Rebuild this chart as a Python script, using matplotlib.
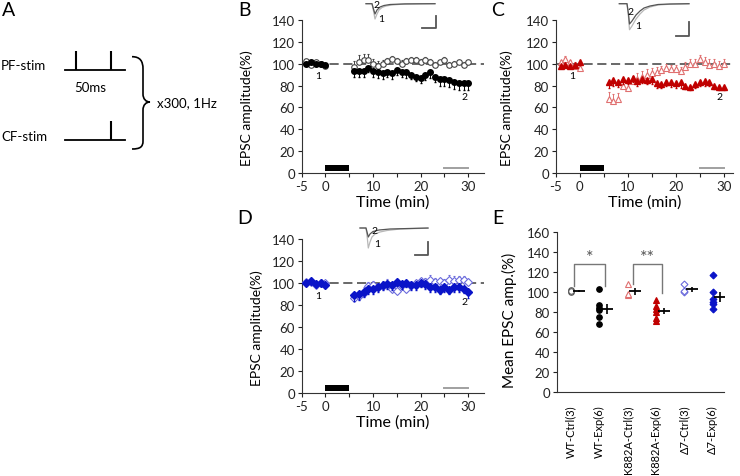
import numpy as np
import matplotlib
matplotlib.use("Agg")
import matplotlib.pyplot as plt
from matplotlib.path import Path
from matplotlib.patches import PathPatch

plt.rcParams['font.family'] = ['Lato', 'DejaVu Sans']

W, H = 740, 477

# ---- time course data (min, % of baseline) ----
t_base = [-4, -3, -2, -1, 0]
t_post = list(range(6, 31))
time = t_base + t_post

wt_exp = [100, 101, 100, 100, 99,
          93, 93, 93, 96, 93, 92, 91, 92, 91, 94, 92, 92, 90, 88, 87, 90, 92, 88, 86, 86, 85, 83, 82, 82, 82]
wt_exp_err = [1, 1, 1, 1, 1,
              5, 5, 5, 4, 5, 5, 5, 4, 5, 4, 4, 5, 4, 4, 5, 5, 5, 5, 6, 6, 6, 6, 6, 6, 6]
wt_ctrl = [102, 99, 101, 100, 98,
           97, 101, 103, 103, 100, 98, 100, 102, 104, 102, 100, 102, 103, 103, 101, 103, 101, 99, 101, 103, 99, 100, 101, 99, 101]
wt_ctrl_err = [2, 2, 1, 1, 2,
               5, 7, 6, 6, 4, 4, 3, 3, 3, 3, 3, 3, 3, 3, 3, 3, 3, 2, 2, 3, 2, 2, 2, 2, 2]

k882a_exp = [98, 99, 98, 99, 101,
             83, 85, 83, 86, 85, 87, 84, 86, 85, 86, 82, 81, 83, 83, 82, 83, 80, 79, 81, 83, 84, 83, 80, 79, 79]
k882a_exp_err = [2, 2, 2, 2, 2,
                 5, 5, 4, 5, 4, 4, 4, 4, 4, 5, 4, 3, 3, 4, 4, 5, 3, 3, 3, 3, 4, 3, 3, 3, 3]
k882a_ctrl = [101, 104, 101, 98, 96,
              68, 66, 68, 80, 78, 84, 86, 88, 90, 91, 92, 94, 96, 95, 95, 93, 97, 100, 100, 104, 101, 99, 100, 98, 100]
k882a_ctrl_err = [2, 3, 2, 3, 3,
                  6, 6, 5, 5, 5, 5, 5, 5, 5, 5, 5, 4, 4, 4, 4, 4, 4, 4, 4, 4, 5, 5, 4, 4, 4]

d7_exp = [100, 102, 99, 100, 98,
          89, 90, 92, 95, 95, 96, 98, 99, 98, 101, 99, 100, 98, 98, 100, 99, 96, 96, 94, 96, 94, 96, 96, 95, 92]
d7_exp_err = [1, 1, 1, 1, 1,
              5, 5, 5, 5, 5, 4, 4, 4, 4, 4, 4, 4, 4, 4, 4, 4, 4, 4, 4, 4, 4, 4, 4, 4, 6]
d7_ctrl = [101, 101, 98, 100, 100,
           86, 88, 91, 97, 98, 96, 97, 99, 95, 93, 97, 95, 98, 100, 102, 101, 103, 101, 102, 100, 103, 102, 103, 103, 101]
d7_ctrl_err = [1, 1, 1, 1, 1,
               5, 5, 5, 4, 4, 4, 5, 5, 5, 5, 4, 4, 3, 3, 3, 4, 4, 4, 3, 4, 4, 4, 3, 3, 3]

cf_bar = (0, 5)        # conditioning period (min)
analysis_win = (25, 30)

# ---- summary data (panel E) ----
groups = ['WT-Ctrl(3)', 'WT-Exp(6)', 'K882A-Ctrl(3)', 'K882A-Exp(6)', 'Δ7-Ctrl(3)', 'Δ7-Exp(6)']
group_vals = [
    [100, 102, 101],
    [103, 87, 84, 82, 75, 68],
    [108, 97, 98],
    [92, 86, 83, 80, 74, 71],
    [108, 100, 101],
    [117, 100, 93, 90, 88, 83],
]
group_sem = [0.7, 5, 3.5, 3, 2.5, 5]

# ---- EPSC sample traces (inset units) ----
trB1 = ([6, 12, 13.5, 15, 17, 19, 22, 26, 32, 42, 60, 75],
        [4.7, 4.7, 12, 20, 15, 11, 8.5, 7, 6, 5.2, 4.8, 4.7])
trB2 = ([6, 12, 13.5, 15, 17, 20, 24, 30, 45, 75],
        [4.7, 4.7, 10, 15, 11, 8, 6.5, 5.5, 4.9, 4.7])
trC1 = ([9.3, 17, 18.5, 19.5, 22, 26, 30, 34, 40, 48, 60, 79],
        [4.7, 4.7, 18, 30.7, 27, 20, 15, 11, 8, 6, 5.2, 4.8])
trC2 = ([9.3, 17, 18.5, 19.5, 22, 26, 30, 34, 40, 48, 60, 79],
        [4.7, 4.7, 15, 25, 22, 16, 12, 9, 7, 5.5, 5, 4.7])
trD1 = ([5, 11, 12.3, 13.3, 15, 17, 20, 25, 32, 45, 73],
        [4, 4, 14, 24, 18, 13, 10, 8, 6.5, 5, 4.2])
trD2 = ([5, 11, 12.3, 13.3, 15, 18, 24, 35, 73],
        [4, 4, 9, 13, 10, 7.5, 6, 5, 4])

# stimulation protocol (ms)
pf_stim = [0, 50]
cf_stim = [50]

RED, RED_L = '#c00000', '#e07070'
BLUE, BLUE_L = '#0a14c8', '#6b6bdc'

fig = plt.figure(figsize=(7.4, 4.77), dpi=100)


def px_axes(x0, y0, x1, y1):
    return fig.add_axes([x0 / W, 1 - y1 / H, (x1 - x0) / W, (y1 - y0) / H])


def time_panel(box, xmax, exp, exp_err, ctrl, ctrl_err, col_f, col_o, mk, lab_x, mk_size=4):
    ax = px_axes(*box)
    ax.axhline(100, color='#404040', lw=1.1, dashes=(6, 3), zorder=1)
    ax.errorbar(time, ctrl, yerr=[np.zeros(len(ctrl)), ctrl_err], fmt=mk, color=col_o,
                mfc='white', mec=col_o, ms=mk_size, mew=0.8, elinewidth=0.7, capsize=1.0, zorder=3)
    ax.errorbar(time, exp, yerr=[exp_err, np.zeros(len(exp))], fmt=mk, color=col_f,
                mfc=col_f, mec=col_f, ms=mk_size, elinewidth=0.7, capsize=1.0, zorder=4)
    ax.fill_between(cf_bar, 2, 7.5, color='black', lw=0)
    ax.plot(analysis_win, [5, 5], color='#a0a0a0', lw=1.4)
    ax.set_xlim(-5, xmax)
    ax.set_ylim(0, 140)
    ax.set_xticks(range(-5, 31, 5))
    ax.set_xticklabels(['-5', '0', '', '10', '', '20', '', '30'])
    ax.set_yticks(range(0, 141, 20))
    for s in ['top', 'right']:
        ax.spines[s].set_visible(False)
    for s in ['left', 'bottom']:
        ax.spines[s].set_color('#333333')
    ax.tick_params(labelsize=9.5, length=3, pad=2, colors='#222222')
    ax.set_ylabel('EPSC amplitude(%)', fontsize=10)
    ax.set_xlabel('Time (min)', fontsize=11.5)
    w = box[2] - box[0]
    h = box[3] - box[1]
    ax.yaxis.set_label_coords((lab_x - box[0]) / w, 0.43)
    ax.xaxis.set_label_coords(0.5, -21.5 / h)
    ax.text(-1.6, 89, '1', fontsize=7.5, ha='center', va='center')
    return ax


def inset(box, tr1, tr2, bar, lab2, lab1):
    ax = px_axes(*box)
    w = box[2] - box[0]
    h = box[3] - box[1]
    ax.set_xlim(0, w)
    ax.set_ylim(h, 0)
    ax.axis('off')
    ax.plot(*tr1, color='#b8b8b8', lw=0.9)
    ax.plot(*tr2, color='#555555', lw=0.9)
    (hx0, hx1, hy, vy0) = bar
    ax.plot([hx0, hx1, hx1], [hy, hy, vy0], color='#555555', lw=1.3)
    ax.text(*lab2, '2', fontsize=7.5, ha='center', va='center')
    ax.text(*lab1, '1', fontsize=7.5, ha='center', va='center')


# ---- Panel A: protocol ----
axA = px_axes(0, 0, 240, 240)
axA.set_xlim(0, 240)
axA.set_ylim(240, 0)
axA.axis('off')
ms2px = lambda ms: 76 + 0.7 * np.asarray(ms)
axA.plot([65, 125], [70.7, 70.7], color='black', lw=1.3)
axA.vlines(ms2px(pf_stim), 51.7, 70.7, color='black', lw=1.5)
axA.plot([65, 125], [141, 141], color='black', lw=1.3)
axA.vlines(ms2px(cf_stim), 121.7, 141, color='black', lw=1.5)
axA.text(1, 66, 'PF-stim', fontsize=9.5, ha='left', va='center')
axA.text(1, 137, 'CF-stim', fontsize=9.5, ha='left', va='center')
axA.text(90, 88, '50ms', fontsize=9.5, ha='center', va='center')
axA.text(157, 103, 'x300, 1Hz', fontsize=9.5, ha='left', va='center')
verts = [(132, 57.7), (140, 57.7), (143, 62), (143, 70), (143, 95), (143, 95), (143, 95),
         (143, 100), (146, 103), (150, 103), (146, 103), (143, 106), (143, 111),
         (143, 142), (143, 142), (143, 142), (143, 148), (140, 150), (132, 150)]
codes = [Path.MOVETO] + [Path.CURVE4] * 18
axA.add_patch(PathPatch(Path(verts, codes), fc='none', ec='black', lw=1.2))

# ---- Panels B, C, D ----
axB = time_panel((301.7, 20.7, 484, 174.3), 33.3, wt_exp, wt_exp_err, wt_ctrl, wt_ctrl_err,
                 'black', '#444444', 'o', 252.7)
axB.text(29.2, 70, '2', fontsize=7.5, ha='center', va='center')
axC = time_panel((555.7, 20.7, 733, 174.3), 31.9, k882a_exp, k882a_exp_err, k882a_ctrl, k882a_ctrl_err,
                 RED, RED_L, '^', 513.3)
axC.text(29, 70, '2', fontsize=7.5, ha='center', va='center')
axD = time_panel((301.7, 240, 484, 394), 33.3, d7_exp, d7_exp_err, d7_ctrl, d7_ctrl_err,
                 BLUE, BLUE_L, 'D', 263.3, mk_size=3.6)
axD.text(29.2, 83.4, '2', fontsize=7.5, ha='center', va='center')

inset((360, 0, 440, 32), trB1, trB2, (62, 76, 29.3, 16.7), (16, 5), (20.7, 19))
inset((610, 0, 700, 45), trC1, trC2, (66, 79.3, 36.7, 23.3), (20, 12.7), (27.7, 26.7))
inset((355, 225, 435, 260), trD1, trD2, (60, 73.3, 30.7, 18.3), (19, 6.5), (21.7, 20))

# ---- Panel E ----
axE = px_axes(556.7, 233.3, 724, 392.7)
styles = [('o', 'white', '#555555'), ('o', 'black', 'black'),
          ('^', 'white', RED_L), ('^', RED, RED),
          ('D', 'white', BLUE_L), ('D', BLUE, BLUE)]
for i, (vals, (mk, fc, ec)) in enumerate(zip(group_vals, styles)):
    x = i + 1
    axE.plot([x] * len(vals), vals, ls='none', marker=mk, mfc=fc, mec=ec,
             ms=4 if mk != 'D' else 3.5, mew=0.8)
    axE.errorbar(x + 0.27, np.mean(vals), yerr=group_sem[i], fmt='_', color='black',
                 ms=8, mew=1.3, elinewidth=1.2, capsize=0)
# significance brackets
brackets = [(1.1, 2.2, 106, 106, '*'), (3.2, 4.2, 108, 99, '**')]
for x0, x1, y0, y1, star in brackets:
    axE.plot([x0, x0, x1, x1], [y0, 128, 128, y1], color='#777777', lw=1.0)
    axE.text((x0 + x1) / 2, 135, star, color='#555555', fontsize=13, ha='center', va='center')
axE.set_xlim(0.5, 6.4)
axE.set_ylim(0, 160)
axE.set_yticks(range(0, 161, 20))
axE.set_xticks(range(1, 7))
axE.set_xticklabels(groups, rotation=90, fontsize=8)
axE.tick_params(axis='y', labelsize=9.5, length=3, pad=2, colors='#222222')
axE.tick_params(axis='x', length=0, pad=9)
for s in ['top', 'right']:
    axE.spines[s].set_visible(False)
for s in ['left', 'bottom']:
    axE.spines[s].set_color('#333333')
axE.set_ylabel('Mean EPSC amp.(%)', fontsize=11)
axE.yaxis.set_label_coords((517 - 556.7) / 167.3, 0.455)

# ---- panel letters ----
for lab, (x, y) in zip('ABCDE', [(9, 11), (245, 10), (498, 11), (245, 219), (498, 219)]):
    fig.text(x / W, 1 - y / H, lab, fontsize=14, ha='center', va='center')

fig.savefig('out.png', dpi=100)
